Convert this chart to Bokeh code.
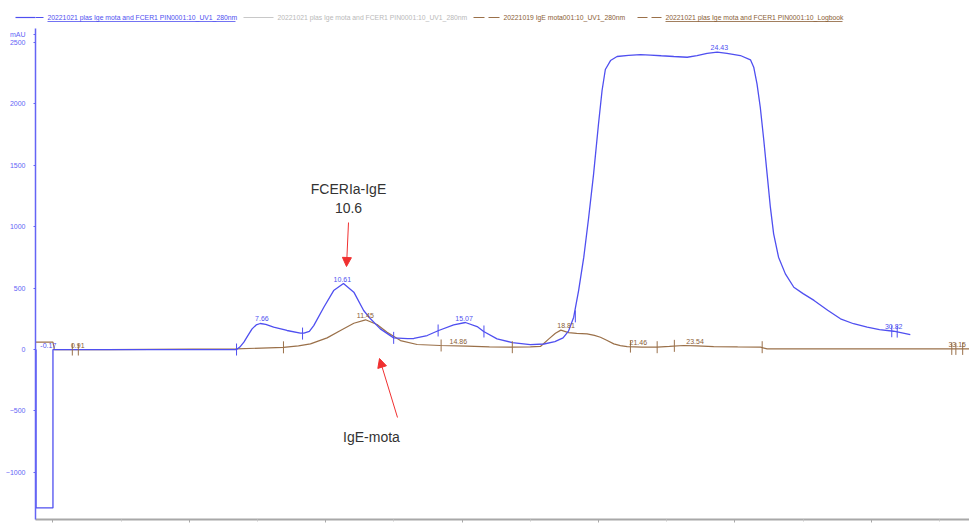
from bokeh.plotting import figure
from bokeh.layouts import column
from bokeh.models import Range1d, FixedTicker, Label, Arrow, NormalHead
from bokeh.core.properties import value
from bokeh.embed import file_html
from bokeh.resources import INLINE

# ---------------- data (mL, mAU) ----------------
blue_ml = [-0.62, -0.62, 0.0, 0.0, 3.0, 6.73, 6.85, 7.0, 7.15, 7.3, 7.45, 7.6, 7.8, 8.09, 8.58,
           9.07, 9.2, 9.4, 9.56, 9.93, 10.29, 10.65, 11.03, 11.39, 11.64, 12.0, 12.49, 13.0,
           13.23, 13.72, 14.14, 14.69, 15.12, 15.55, 15.79, 16.28, 16.84, 17.5, 18.0, 18.4,
           18.7, 18.9, 19.09, 19.27, 19.46, 19.64, 19.82, 20.0, 20.13, 20.25, 20.44, 20.68,
           21.1, 21.54, 21.9, 22.3, 22.76, 23.25, 23.61, 23.98, 24.35, 24.71, 25.2, 25.57,
           25.69, 25.81, 25.93, 26.06, 26.18, 26.3, 26.42, 26.6, 26.85, 27.16, 27.5, 27.9,
           28.4, 28.87, 29.35, 29.85, 30.3, 30.82, 31.43]
blue_mau = [0, -1290, -1290, 0, 0, 0, 20, 60, 115, 168, 200, 212, 205, 182, 155,
            133, 133, 148, 195, 344, 480, 537, 467, 318, 250, 168, 95, 88,
            90, 114, 155, 201, 220, 187, 147, 87, 57, 40, 45, 65,
            95, 150, 263, 480, 752, 1077, 1430, 1838, 2109, 2280, 2353, 2386,
            2395, 2402, 2398, 2392, 2386, 2380, 2394, 2412, 2421, 2412, 2394, 2359,
            2299, 2163, 1973, 1702, 1430, 1159, 942, 752, 616, 507, 455, 400,
            320, 250, 210, 182, 162, 149, 122]

brown_ml = [-0.64, 0.0, 0.05, 2.0, 6.7, 8.45, 9.0, 9.44, 10.05, 10.54, 11.03, 11.46, 11.88,
            12.25, 12.74, 13.35, 14.2, 15.18, 16.0, 16.77, 17.5, 17.87, 18.18, 18.42, 18.62,
            18.9, 19.2, 19.58, 19.85, 20.07, 20.3, 20.56, 20.8, 21.05, 21.6, 22.15, 22.6,
            23.12, 23.6, 24.22, 25.1, 25.94, 26.18, 27.3, 30.0, 33.6]
brown_mau = [60, 60, 0, 0, 5, 18, 30, 46, 95, 155, 214, 242, 204,
             141, 73, 41, 33, 27, 22, 19, 22, 25, 87, 133, 158,
             138, 132, 128, 115, 100, 75, 46, 32, 24, 20, 19, 25,
             33, 30, 24, 21, 19, 6, 6, 5, 5]

blue_peak_ml = [-0.17, 7.66, 10.61, 15.07, 24.43, 30.82]
blue_peak_mau = [0, 212, 537, 220, 2421, 149]
blue_peak_txt = ["-0.17", "7.66", "10.61", "15.07", "24.43", "30.82"]

brown_peak_ml = [0.91, 11.45, 14.86, 18.81, 21.46, 23.54, 33.15]
brown_peak_mau = [0, 242, 27, 158, 22, 30, 5]
brown_peak_txt = ["0.91", "11.45", "14.86", "18.81", "21.46", "23.54", "33.15"]

blue_marks_ml = [6.73, 9.15, 12.49, 14.12, 15.8, 19.15, 30.75, 30.95]
blue_marks_mau = [0, 130, 95, 155, 147, 270, 149, 146]
brown_marks_ml = [0.71, 0.93, 8.45, 14.23, 16.84, 21.17, 22.15, 22.78, 26.0, 32.95, 33.1, 33.35]
brown_marks_mau = [0, 0, 18, 33, 19, 24, 19, 30, 19, 5, 5, 5]

y_ticks = [-1000, -500, 0, 500, 1000, 1500, 2000, 2500]
y_unit = "mAU"
x_ticks = [0, 5, 10, 15, 20, 25, 30]
x_minor = [2.5, 7.5, 12.5, 17.5, 22.5, 27.5, 32.5]

legend_texts = ["20221021 plas Ige mota and FCER1 PIN0001:10_UV1_280nm",
                "20221021 plas Ige mota and FCER1 PIN0001:10_UV1_280nm",
                "20221019 IgE mota001:10_UV1_280nm",
                "20221021 plas Ige mota and FCER1 PIN0001:10_Logbook"]

# ---------------- styling ----------------
BLUE = "#4f4ff0"
AXBLUE = "#6464f5"
BROWN = "#9a7049"
BROWN_TXT = "#8a5e36"
GRAY_TXT = "#b9b9b9"
RED = "#f03030"
FONT = "Liberation Sans"

W = 969
HEAD_H = 28           # header strip (legend)
MAIN_H = 523 - HEAD_H
LEFT, BOTTOM = 35, 4
X0, X1 = -0.64, 33.6
Y0, Y1 = -1384, 2614
FW, FH = W - LEFT, MAIN_H - BOTTOM
PXX = FW / (X1 - X0)
PXY = FH / (Y1 - Y0)


def X(px):
    return X0 + (px - LEFT) / PXX


def Y(py):
    return Y1 - (py - HEAD_H) / PXY


# ---------------- header strip (legend) ----------------
LY = 17
h = figure(width=W, height=HEAD_H, output_backend="svg", toolbar_location=None,
           x_range=Range1d(LEFT, W), y_range=Range1d(HEAD_H, 0),
           x_axis_type=None, min_border_left=LEFT, min_border_right=0,
           min_border_top=0, min_border_bottom=0)
h.outline_line_color = None
h.xgrid.visible = False
h.ygrid.visible = False
# the part of the first legend swatch that lies left of the frame is drawn as a tick
h.yaxis.ticker = FixedTicker(ticks=[LY])
h.yaxis.axis_line_color = None
h.yaxis.major_tick_out = 20
h.yaxis.major_tick_in = 0
h.yaxis.major_tick_line_color = BLUE
h.yaxis.major_tick_line_width = 1.2
h.yaxis.minor_tick_line_color = None
h.yaxis.major_label_overrides = {LY: ""}
h.yaxis.major_label_text_font_size = "1px"
h.yaxis.major_label_standoff = 0

legend_items = [
    (LEFT, 43, BLUE, "solid", 47, BLUE, 235),
    (243, 273, "#c8c8c8", "solid", 277, GRAY_TXT, None),
    (473, 500, BROWN, "11 4", 503, BROWN_TXT, None),
    (637, 662, BROWN, "10 4", 665, BROWN_TXT, 842),
]
for (l0, l1, lc, dash, tx, tc, ul), txt in zip(legend_items, legend_texts):
    h.line([l0, l1], [LY, LY], line_color=lc, line_width=1.2, line_dash=dash)
    h.text(x=[tx], y=[LY], text=[txt], text_color=tc, text_font=value(FONT),
           text_font_size="6.8px", text_align="left", text_baseline="middle")
    if ul is not None:
        h.line([tx, ul], [LY + 4, LY + 4], line_color=tc, line_width=0.8)

# ---------------- main chart ----------------
p = figure(width=W, height=MAIN_H, output_backend="svg", toolbar_location=None,
           x_range=Range1d(X0, X1), y_range=Range1d(Y0, Y1),
           min_border_left=LEFT, min_border_right=0, min_border_top=0,
           min_border_bottom=BOTTOM)
p.outline_line_color = None
p.xgrid.visible = False
p.ygrid.visible = False

unit_pos = Y(34)
p.yaxis.ticker = FixedTicker(ticks=y_ticks + [unit_pos])
p.yaxis.major_label_overrides = {unit_pos: y_unit}
p.yaxis.axis_line_color = AXBLUE
p.yaxis.axis_line_width = 1.5
p.yaxis.major_tick_line_color = AXBLUE
p.yaxis.major_tick_out = 2
p.yaxis.major_tick_in = 0
p.yaxis.minor_tick_line_color = None
p.yaxis.major_label_text_color = AXBLUE
p.yaxis.major_label_text_font = FONT
p.yaxis.major_label_text_font_size = "7px"
p.yaxis.major_label_standoff = 8

p.xaxis.ticker = FixedTicker(ticks=x_ticks, minor_ticks=x_minor)
p.xaxis.axis_line_color = "#a8a8a8"
p.xaxis.axis_line_width = 2
p.xaxis.major_tick_line_color = "#a8a8a8"
p.xaxis.minor_tick_line_color = "#c8c8c8"
p.xaxis.major_tick_out = 3
p.xaxis.major_tick_in = 0
p.xaxis.minor_tick_out = 2
p.xaxis.minor_tick_in = 0
p.xaxis.major_label_overrides = {t: "" for t in x_ticks}
p.xaxis.major_label_text_font_size = "1px"
p.xaxis.major_label_standoff = 0

p.line(brown_ml, brown_mau, line_color=BROWN, line_width=1.2)
p.line(blue_ml, blue_mau, line_color=BLUE, line_width=1.3)

HB = 6 / PXY
p.segment(x0=blue_marks_ml, y0=[v - HB for v in blue_marks_mau],
          x1=blue_marks_ml, y1=[v + HB for v in blue_marks_mau],
          line_color=BLUE, line_width=1)
p.segment(x0=brown_marks_ml, y0=[v - HB for v in brown_marks_mau],
          x1=brown_marks_ml, y1=[v + HB for v in brown_marks_mau],
          line_color=BROWN, line_width=1)

p.text(x=blue_peak_ml, y=blue_peak_mau, text=blue_peak_txt, text_color=BLUE,
       text_font=value(FONT), text_font_size="7px", text_align="center",
       text_baseline="bottom", y_offset=-2)
p.text(x=brown_peak_ml, y=brown_peak_mau, text=brown_peak_txt, text_color=BROWN_TXT,
       text_font=value(FONT), text_font_size="7px", text_align="center",
       text_baseline="bottom", y_offset=-2)

for txt, py in [("FCERIa-IgE", 188), ("10.6", 207)]:
    p.add_layout(Label(x=X(348), y=Y(py), text=txt, text_color="#333333", text_font=FONT,
                       text_font_size="14px", text_align="center", text_baseline="middle"))
p.add_layout(Label(x=X(371), y=Y(436), text="IgE-mota", text_color="#333333", text_font=FONT,
                   text_font_size="14px", text_align="center", text_baseline="middle"))
p.add_layout(Arrow(end=NormalHead(size=9, fill_color=RED, line_color=RED),
                   x_start=X(348), y_start=Y(222), x_end=X(346), y_end=Y(266),
                   line_color=RED, line_width=1))
p.add_layout(Arrow(end=NormalHead(size=9, fill_color=RED, line_color=RED),
                   x_start=X(397), y_start=Y(417), x_end=X(379), y_end=Y(358),
                   line_color=RED, line_width=1))

layout = column(h, p, spacing=0)
open("out.html", "w").write(file_html(layout, INLINE))
